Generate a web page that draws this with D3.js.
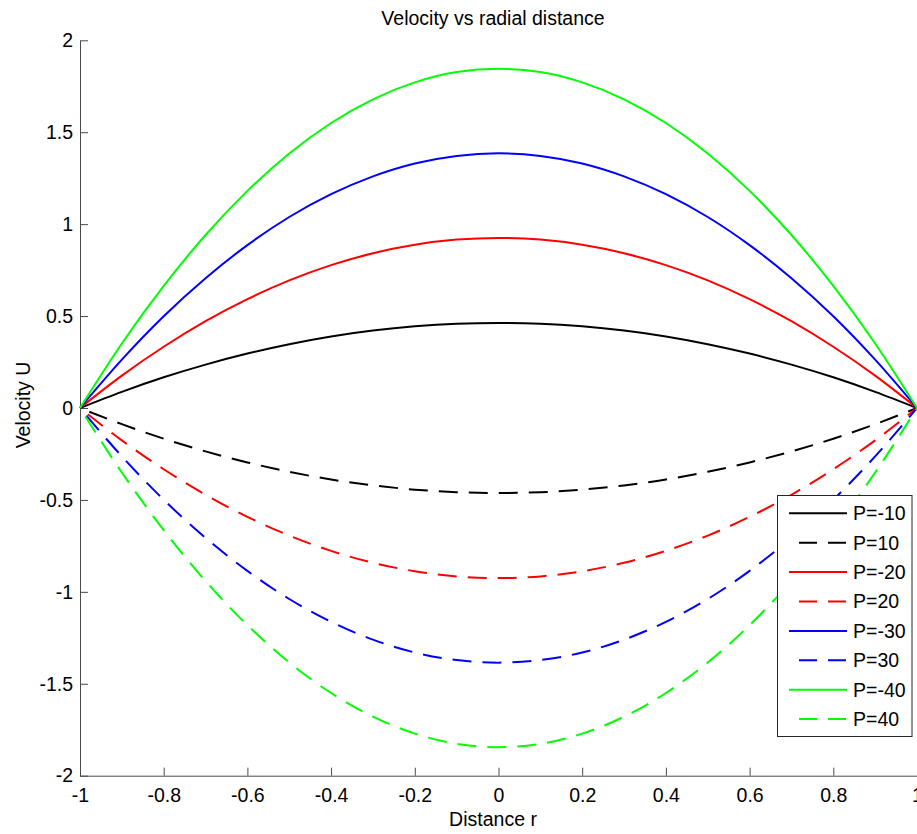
<!DOCTYPE html>
<html>
<head>
<meta charset="utf-8">
<script src="https://cdn.jsdelivr.net/npm/d3@7"></script>
<style>
  html, body { margin: 0; padding: 0; background: #fff; }
  svg { display: block; font-family: "Liberation Sans", Arial, sans-serif; }
</style>
</head>
<body>
<svg id="chart" width="917" height="834"></svg>
<script>
// Radial positions
const radius = [-1, -0.9, -0.8, -0.7, -0.6, -0.5, -0.4, -0.3, -0.2, -0.1, 0,
                0.1, 0.2, 0.3, 0.4, 0.5, 0.6, 0.7, 0.8, 0.9, 1];

// Velocity profiles for each pressure gradient
const uPm10 = [0, 0.088, 0.167, 0.236, 0.296, 0.347, 0.389, 0.421, 0.444, 0.458, 0.4625,
               0.458, 0.444, 0.421, 0.389, 0.347, 0.296, 0.236, 0.167, 0.088, 0];
const uP10  = [0, -0.088, -0.167, -0.236, -0.296, -0.347, -0.389, -0.421, -0.444, -0.458, -0.4625,
               -0.458, -0.444, -0.421, -0.389, -0.347, -0.296, -0.236, -0.167, -0.088, 0];
const uPm20 = [0, 0.176, 0.333, 0.472, 0.592, 0.694, 0.777, 0.842, 0.888, 0.916, 0.925,
               0.916, 0.888, 0.842, 0.777, 0.694, 0.592, 0.472, 0.333, 0.176, 0];
const uP20  = [0, -0.176, -0.333, -0.472, -0.592, -0.694, -0.777, -0.842, -0.888, -0.916, -0.925,
               -0.916, -0.888, -0.842, -0.777, -0.694, -0.592, -0.472, -0.333, -0.176, 0];
const uPm30 = [0, 0.263, 0.499, 0.706, 0.886, 1.039, 1.163, 1.260, 1.330, 1.371, 1.385,
               1.371, 1.330, 1.260, 1.163, 1.039, 0.886, 0.706, 0.499, 0.263, 0];
const uP30  = [0, -0.263, -0.499, -0.706, -0.886, -1.039, -1.163, -1.260, -1.330, -1.371, -1.385,
               -1.371, -1.330, -1.260, -1.163, -1.039, -0.886, -0.706, -0.499, -0.263, 0];
const uPm40 = [0, 0.351, 0.664, 0.941, 1.181, 1.384, 1.550, 1.679, 1.771, 1.827, 1.845,
               1.827, 1.771, 1.679, 1.550, 1.384, 1.181, 0.941, 0.664, 0.351, 0];
const uP40  = [0, -0.351, -0.664, -0.941, -1.181, -1.384, -1.550, -1.679, -1.771, -1.827, -1.845,
               -1.827, -1.771, -1.679, -1.550, -1.384, -1.181, -0.941, -0.664, -0.351, 0];

const seriesNames = ["P=-10", "P=10", "P=-20", "P=20", "P=-30", "P=30", "P=-40", "P=40"];
const seriesValues = [uPm10, uP10, uPm20, uP20, uPm30, uP30, uPm40, uP40];
const seriesColors = ["#000000", "#000000", "#ff0000", "#ff0000", "#0000ff", "#0000ff", "#00ff00", "#00ff00"];
const seriesDashed = [false, true, false, true, false, true, false, true];

const xTicks = [-1, -0.8, -0.6, -0.4, -0.2, 0, 0.2, 0.4, 0.6, 0.8, 1];
const yTicks = [-2, -1.5, -1, -0.5, 0, 0.5, 1, 1.5, 2];

const titleText = "Velocity vs radial distance";
const xLabel = "Distance r";
const yLabel = "Velocity U";

const svg = d3.select("#chart");
const fontSize = 19.5;
const axisColor = "#4a4a4a";

const plot = { left: 80, right: 917, top: 40.3, bottom: 775.7 };

const x = d3.scaleLinear().domain([-1, 1]).range([plot.left, plot.right]);
const y = d3.scaleLinear().domain([-2, 2]).range([plot.bottom, plot.top]);

// Axes (ticks pointing inward, no box)
const fmt = d => String(d);

const gx = svg.append("g")
  .attr("transform", `translate(0,${plot.bottom})`)
  .call(d3.axisBottom(x).tickValues(xTicks).tickFormat(fmt)
        .tickSizeInner(-8).tickSizeOuter(0).tickPadding(12));

const gy = svg.append("g")
  .attr("transform", `translate(${plot.left},0)`)
  .call(d3.axisLeft(y).tickValues(yTicks).tickFormat(fmt)
        .tickSizeInner(-8).tickSizeOuter(0).tickPadding(7));

[gx, gy].forEach(g => {
  g.select(".domain").attr("stroke", axisColor).attr("stroke-width", 1);
  g.selectAll(".tick line").attr("stroke", axisColor).attr("stroke-width", 1);
  g.selectAll(".tick text")
    .attr("fill", "#000")
    .style("font-size", fontSize + "px")
    .style("font-family", "'Liberation Sans', Arial, sans-serif");
});

// Curves
const line = d3.line()
  .x((d, i) => x(radius[i]))
  .y(d => y(d))
  .curve(d3.curveMonotoneX);

const dashPattern = "19,11";
const dashOffset = 20;

seriesValues.forEach((vals, k) => {
  svg.append("path")
    .datum(vals)
    .attr("d", line)
    .attr("fill", "none")
    .attr("stroke", seriesColors[k])
    .attr("stroke-width", 2)
    .attr("stroke-dasharray", seriesDashed[k] ? dashPattern : null)
    .attr("stroke-dashoffset", seriesDashed[k] ? dashOffset : null);
});

// Title and axis labels
svg.append("text")
  .attr("x", 493).attr("y", 25)
  .attr("text-anchor", "middle")
  .style("font-size", fontSize + "px")
  .text(titleText);

svg.append("text")
  .attr("x", 493).attr("y", 826)
  .attr("text-anchor", "middle")
  .style("font-size", fontSize + "px")
  .text(xLabel);

svg.append("text")
  .attr("transform", "translate(30,405) rotate(-90)")
  .attr("text-anchor", "middle")
  .style("font-size", fontSize + "px")
  .text(yLabel);

// Legend
const legend = { x: 777.5, y: 495.5, w: 134.5, h: 241, rowTop: 513.3, rowStep: 29.4 };
const lg = svg.append("g");
lg.append("rect")
  .attr("x", legend.x).attr("y", legend.y)
  .attr("width", legend.w).attr("height", legend.h)
  .attr("fill", "#fff").attr("stroke", "#262626").attr("stroke-width", 1);

seriesNames.forEach((name, k) => {
  const ry = legend.rowTop + k * legend.rowStep;
  lg.append("line")
    .attr("x1", 789).attr("x2", 847)
    .attr("y1", ry).attr("y2", ry)
    .attr("stroke", seriesColors[k])
    .attr("stroke-width", 2)
    .attr("stroke-dasharray", seriesDashed[k] ? "18,11" : null)
    .attr("stroke-dashoffset", seriesDashed[k] ? 19 : null);
  lg.append("text")
    .attr("x", 853).attr("y", ry)
    .attr("dy", "0.35em")
    .style("font-size", fontSize + "px")
    .text(name);
});
</script>
</body>
</html>
